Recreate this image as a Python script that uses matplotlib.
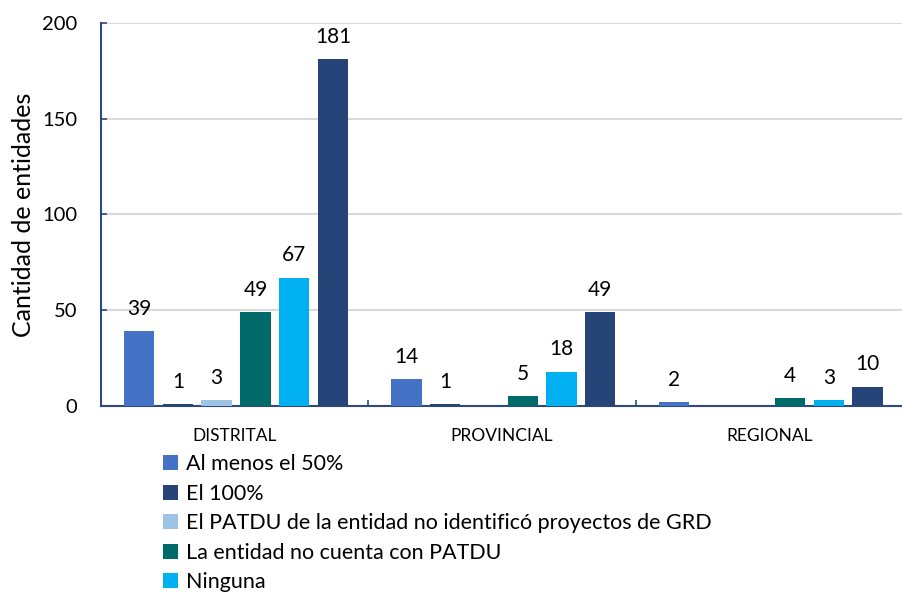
import numpy as np
import matplotlib.pyplot as plt

plt.rcParams['font.family'] = ['Lato', 'DejaVu Sans']

categories = ["DISTRITAL", "PROVINCIAL", "REGIONAL"]
series_names = [
    "Al menos el 50%",
    "El 100%",
    "El PATDU de la entidad no identificó proyectos de GRD",
    "La entidad no cuenta con PATDU",
    "Ninguna",
    "",  # sixth series, its legend entry falls outside the picture
]
al_menos_50 = [39, 14, 2]
el_100 = [1, 1, 0]
no_identifico = [3, 0, 0]
sin_patdu = [49, 5, 4]
ninguna = [67, 18, 3]
sexta = [181, 49, 10]

values = [al_menos_50, el_100, no_identifico, sin_patdu, ninguna, sexta]
colors = ["#4472C4", "#264478", "#9DC3E6", "#006A6A", "#00B0F0", "#264478"]

fig = plt.figure(figsize=(9.03, 5.94), dpi=100)
ax = fig.add_axes([0.1119, 0.3165, 0.8881, 0.6448])

x = np.arange(len(categories))
slot = 0.145
width = 0.114
handles = []
for i, (vals, col) in enumerate(zip(values, colors)):
    pos = x + (i - 2.5) * slot + 0.005
    bars = ax.bar(pos, vals, width=width, color=col, zorder=3)
    handles.append(bars)
    for p, v in zip(pos, vals):
        if v == 0:
            continue
        ax.annotate(str(v), (p, v), xytext=(0, 9), textcoords="offset points",
                    ha="center", va="bottom", fontsize=15)

ax.set_ylim(0, 200)
ax.set_xlim(-0.5, 2.467)
ax.set_yticks([0, 50, 100, 150, 200])
ax.yaxis.grid(True, color="#D9D9D9", linewidth=1.5, zorder=0)
ax.set_axisbelow(True)

ax.set_xticks(x)
ax.set_xticklabels(categories, fontsize=12.5)
ax.set_xticks([-0.5, 0.5, 1.5, 2.5], minor=True)
ax.tick_params(axis="x", which="major", length=0, pad=16)
ax.tick_params(axis="x", which="minor", direction="in", length=4,
               color="#2E4A7D", width=1.2)
ax.tick_params(axis="y", direction="in", length=4, color="#2E4A7D",
               width=1.2, labelsize=14.5, pad=17)

for s in ["top", "right"]:
    ax.spines[s].set_visible(False)
for s in ["left", "bottom"]:
    ax.spines[s].set_color("#2E4A7D")
    ax.spines[s].set_linewidth(1.5)

ax.set_ylabel("Cantidad de entidades", fontsize=18, labelpad=5)

fig.legend(handles[:5], series_names[:5], loc="upper left",
           bbox_to_anchor=(0.18, 0.235), frameon=False, fontsize=15.5,
           handlelength=0.7, handleheight=0.7, handletextpad=0.4,
           labelspacing=0.44, borderaxespad=0, borderpad=0)

fig.savefig("out.png", dpi=100)
